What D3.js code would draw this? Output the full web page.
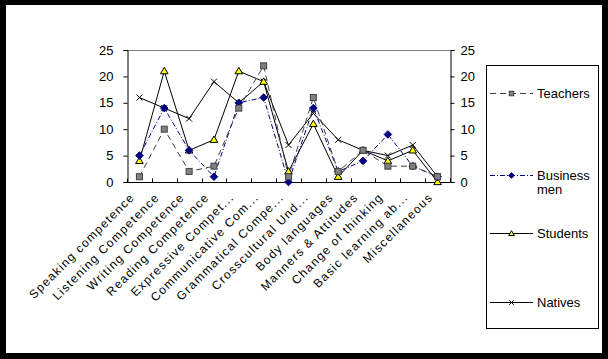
<!DOCTYPE html>
<html>
<head>
<meta charset="utf-8">
<script src="https://d3js.org/d3.v7.min.js"></script>
<style>
  html, body { margin: 0; padding: 0; background: #000; }
  svg { display: block; }
  text { font-family: "Liberation Sans", Arial, sans-serif; fill: #000; }
</style>
</head>
<body>
<div id="chart"></div>
<script>
const categories = ['Speaking competence', 'Listening Competence', 'Writing Competence', 'Reading Competence',
  'Expressive Compet...', 'Communicative Com...', 'Grammatical Compe...', 'Crosscultural Und...',
  'Body languages', 'Manners & Attitudes', 'Change of thinking', 'Basic learning ab...', 'Miscellaneous']
const teachers = [1, 10, 2, 3, 14, 22, 1, 16, 2, 6, 3, 3, 1]
const businessmen = [5, 14, 6, 1, 15, 16, 0, 14, 2, 4, 9, 3, 1]
const students = [4, 21, 6, 8, 21, 19, 2, 11, 1, 6, 4, 6, 0]
const natives = [16, 14, 12, 19, 15, 19, 7, 13, 8, 6, 5, 7, 1]
const yTicks = [0, 5, 10, 15, 20, 25]

const W = 608, H = 359
const m = {t: 50, l: 127, r: 450, b: 182}

const svg = d3.select('#chart').append('svg')
  .attr('width', W)
  .attr('height', H)

svg.append('rect')
  .attr('x', 6).attr('y', 5)
  .attr('width', 596).attr('height', 348)
  .attr('fill', '#fff')

const x = d3.scaleBand().domain(categories).range([m.l, m.r])
const y = d3.scaleLinear().domain([0, 25]).range([m.b, m.t])

// top border of plot area
svg.append('line')
  .attr('x1', m.l).attr('x2', m.r)
  .attr('y1', m.t + 0.5).attr('y2', m.t + 0.5)
  .attr('stroke', '#808080')

// left axis
const yl = svg.append('g')
  .attr('transform', 'translate(' + (m.l + 0.5) + ',0)')
  .call(d3.axisLeft(y).tickValues(yTicks).tickSize(4).tickPadding(10))
yl.select('.domain').attr('stroke', '#000')
yl.selectAll('text').style('font-size', '13px')

// right axis
const yr = svg.append('g')
  .attr('transform', 'translate(' + (m.r + 0.5) + ',0)')
  .call(d3.axisRight(y).tickValues(yTicks).tickSize(4).tickPadding(6))
yr.selectAll('text').style('font-size', '13px')

// bottom axis, ticks between categories pointing up
const xa = svg.append('g').attr('transform', 'translate(0,' + (m.b + 0.5) + ')')
xa.append('line').attr('x1', m.l).attr('x2', m.r).attr('stroke', '#000')
xa.selectAll('line.tk')
  .data(d3.range(categories.length + 1))
  .enter().append('line')
  .attr('class', 'tk')
  .attr('x1', i => Math.round(m.l + i * x.step()) + 0.5)
  .attr('x2', i => Math.round(m.l + i * x.step()) + 0.5)
  .attr('y1', 0).attr('y2', -4)
  .attr('stroke', '#000')

svg.append('g').selectAll('text')
  .data(categories)
  .enter().append('text')
  .attr('transform', d => 'translate(' + (x(d) + x.bandwidth() / 2 - 4) + ',' + (m.b + 16) + ') rotate(-45)')
  .attr('text-anchor', 'end')
  .style('font-size', '12px')
  .style('letter-spacing', '1.3px')
  .text(d => d)

const cx = (d, i) => x(categories[i]) + x.bandwidth() / 2
const line = d3.line().x(cx).y(d => y(d))

const series = [
  {name: 'Teachers', values: teachers, stroke: '#404040', dash: '6,4', marker: 'square'},
  {name: 'Business men', values: businessmen, stroke: '#000080', dash: '5,2,1,2', marker: 'diamond'},
  {name: 'Students', values: students, stroke: '#000', dash: null, marker: 'triangle'},
  {name: 'Natives', values: natives, stroke: '#000', dash: null, marker: 'x'}
]

function drawMarker(g, type, px, py, k) {
  k = k || 1
  if (type == 'square') {
    const s = 3 * k
    g.append('rect').attr('x', px - s).attr('y', py - s).attr('width', 2 * s).attr('height', 2 * s)
      .attr('fill', '#808080').attr('stroke', '#404040')
  } else if (type == 'diamond') {
    const s = 3.8 * k
    g.append('path').attr('d', 'M' + px + ',' + (py - s) + 'L' + (px + s) + ',' + py + 'L' + px + ',' + (py + s) + 'L' + (px - s) + ',' + py + 'Z')
      .attr('fill', '#000080').attr('stroke', '#000080')
  } else if (type == 'triangle') {
    const s = 3.8 * k
    g.append('path').attr('d', 'M' + px + ',' + (py - s) + 'L' + (px + s) + ',' + (py + s * 0.7) + 'L' + (px - s) + ',' + (py + s * 0.7) + 'Z')
      .attr('fill', '#ffff00').attr('stroke', '#000')
  } else {
    const s = 3 * k
    g.append('path').attr('d', 'M' + (px - s) + ',' + (py - s) + 'L' + (px + s) + ',' + (py + s) + 'M' + (px + s) + ',' + (py - s) + 'L' + (px - s) + ',' + (py + s))
      .attr('fill', 'none').attr('stroke', '#000')
  }
}

series.slice().reverse().forEach(s => {
  const g = svg.append('g')
  g.append('path')
    .attr('d', line(s.values))
    .attr('fill', 'none')
    .attr('stroke', s.stroke)
    .attr('stroke-width', 1)
    .attr('stroke-dasharray', s.dash)
  s.values.forEach((v, i) => drawMarker(g, s.marker, cx(v, i), y(v)))
})

// legend
const lg = svg.append('g')
lg.append('rect')
  .attr('x', 486.5).attr('y', 65.5)
  .attr('width', 112).attr('height', 263)
  .attr('fill', '#fff').attr('stroke', '#000')

const legendY = [93, 175, 233, 302]
series.forEach((s, i) => {
  const ly = legendY[i]
  lg.append('line')
    .attr('x1', 490).attr('x2', 533)
    .attr('y1', ly + 0.5).attr('y2', ly + 0.5)
    .attr('stroke', s.stroke)
    .attr('stroke-dasharray', s.dash)
  drawMarker(lg, s.marker, 511.5, ly + 0.5, 0.75)
  const words = s.name.split(' ')
  const t = lg.append('text')
    .attr('x', 537).attr('y', ly + 5)
    .style('font-size', '13px')
  words.forEach((w, j) => {
    t.append('tspan').attr('x', 537).attr('dy', j == 0 ? 0 : 14).text(w)
  })
})
</script>
</body>
</html>
